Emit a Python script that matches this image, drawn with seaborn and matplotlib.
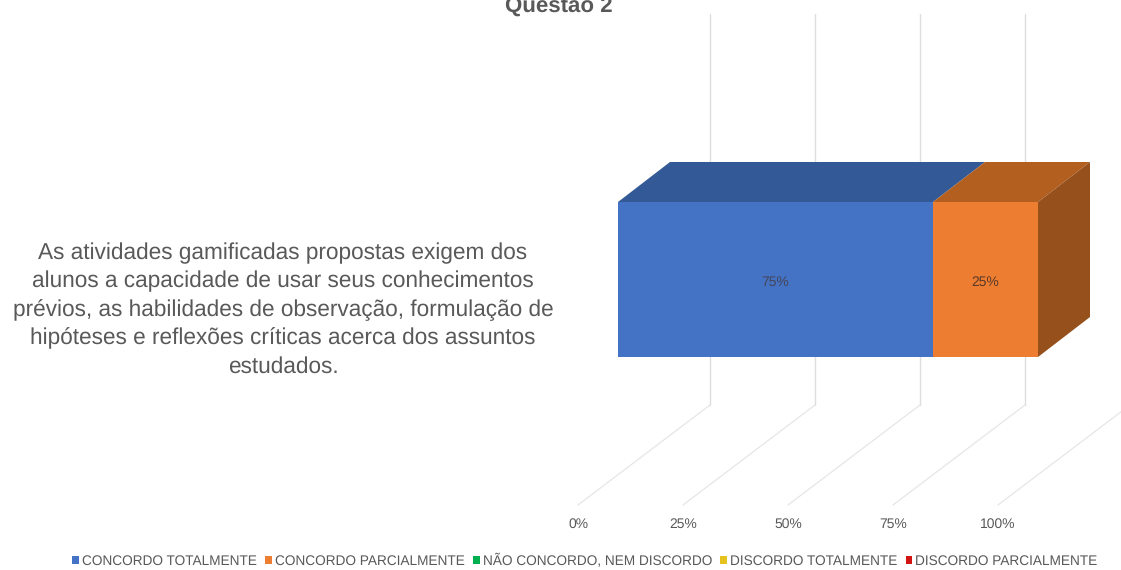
import matplotlib
matplotlib.use("Agg")
import matplotlib.pyplot as plt
from matplotlib.patches import Patch, Polygon
import pandas as pd
import seaborn as sns

title = "Questão 2"
statement = ("As atividades gamificadas propostas exigem dos\n"
             "alunos a capacidade de usar seus conhecimentos\n"
             "prévios, as habilidades de observação, formulação de\n"
             "hipóteses e reflexões críticas acerca dos assuntos\n"
             "estudados.")
responses = ["CONCORDO TOTALMENTE", "CONCORDO PARCIALMENTE",
             "NÃO CONCORDO, NEM DISCORDO", "DISCORDO TOTALMENTE",
             "DISCORDO PARCIALMENTE"]
shares = [75, 25, 0, 0, 0]
tick_values = [0, 25, 50, 75, 100]
tick_labels = ["0%", "25%", "50%", "75%", "100%"]

front_colors = ["#4472C4", "#ED7D31", "#00B050", "#E6C21F", "#D01414"]
top_colors = ["#335A96", "#B35F20"]
side_color = "#96501C"
grid_color = "#DEDEDE"
floor_color = "#E6E6E6"
text_color = "#595959"

W, H = 1121, 570
sns.set_theme(style="white", rc={"font.family": ["Liberation Sans", "DejaVu Sans"],
                                 "text.hinting": "no_hinting"})
fig = plt.figure(figsize=(W / 100, H / 100), dpi=100, facecolor="white")

# The front face of the bar defines the data axes; the box depth is sheared from it.
left, right, top, bottom = 618, 1038, 202, 357
ax = fig.add_axes([left / W, 1 - bottom / H, (right - left) / W, (bottom - top) / H])
ax.set_xlim(0, 100)
ax.set_ylim(0.5, -0.5)
px = (right - left) / 100
py = bottom - top

depth_x, depth_y = 52 / px, 40 / py
wall_x = 92 / px
floor_x = -40 / px
wall_top = -0.5 - (top - 14) / py
wall_bottom = 0.5 + (405 - bottom) / py
floor_bottom = 0.5 + (505 - bottom) / py

# Gridlines: up the back wall, then across the floor towards the viewer.
for v in tick_values:
    ax.plot([v + wall_x] * 2, [wall_top, wall_bottom], color=grid_color, lw=1,
            clip_on=False, zorder=0)
    ax.plot([v + wall_x, v + floor_x], [wall_bottom, floor_bottom], color=floor_color,
            lw=0.9, clip_on=False, zorder=0)

# Stacked front faces: the running total is drawn first, the earlier series over it.
table = pd.DataFrame({"pergunta": ["q"] * len(shares), "resposta": responses,
                      "valor": shares})
table["acumulado"] = table["valor"].cumsum()
for i in reversed(range(2)):
    sns.barplot(data=table.iloc[[i]], x="acumulado", y="pergunta", color=front_colors[i],
                saturation=1, width=1, ax=ax, zorder=3, linewidth=0)

# Top and side faces of the box, derived from the same totals.
start = 0
for i in range(2):
    end = table["acumulado"].iloc[i]
    ax.add_patch(Polygon([(start, -0.5), (end, -0.5),
                          (end + depth_x, -0.5 - depth_y), (start + depth_x, -0.5 - depth_y)],
                         closed=True, facecolor=top_colors[i], edgecolor="none",
                         clip_on=False, zorder=3))
    ax.text((start + end) / 2, 0.015, f"{shares[i]}%", ha="center", va="center",
            fontsize=10, color="#44465A" if i == 0 else "#5A3A28", zorder=5)
    start = end
ax.add_patch(Polygon([(start, -0.5), (start + depth_x, -0.5 - depth_y),
                      (start + depth_x, 0.5 - depth_y), (start, 0.5)],
                     closed=True, facecolor=side_color, edgecolor="none",
                     clip_on=False, zorder=3))
ax.set_xlabel("")
ax.set_ylabel("")
ax.set_xticks([])
ax.set_yticks([])
ax.set_xlim(0, 100)
ax.set_ylim(0.5, -0.5)
sns.despine(ax=ax, left=True, bottom=True)

# Value axis labels sit at the near edge of the floor.
floor = fig.add_axes([(left - 40) / W, 1 - 505 / H, (right - left) / W, 0.001])
floor.set_xlim(0, 100)
floor.patch.set_alpha(0)
floor.set_yticks([])
floor.set_xticks(tick_values, tick_labels)
floor.tick_params(axis="x", length=0, pad=9, labelsize=10, labelcolor=text_color)
sns.despine(ax=floor, left=True, bottom=True)

fig.text(283 / W, 1 - 310 / H, statement, ha="center", va="center", fontsize=16.3,
         color=text_color, linespacing=1.4)
fig.text(559 / W, 1 - 13 / H, title, ha="center", va="baseline", fontsize=16,
         fontweight="bold", color=text_color)

handles = [Patch(facecolor=c, edgecolor="none") for c in front_colors]
fig.legend(handles, responses, loc="center", bbox_to_anchor=(585 / W, 1 - 561 / H), ncol=5,
           frameon=False, fontsize=9.8, labelcolor=text_color, handlelength=0.5,
           handleheight=0.5, handletextpad=0.22, columnspacing=0.6, borderpad=0)

fig.savefig("out.png", dpi=100, facecolor="white")
